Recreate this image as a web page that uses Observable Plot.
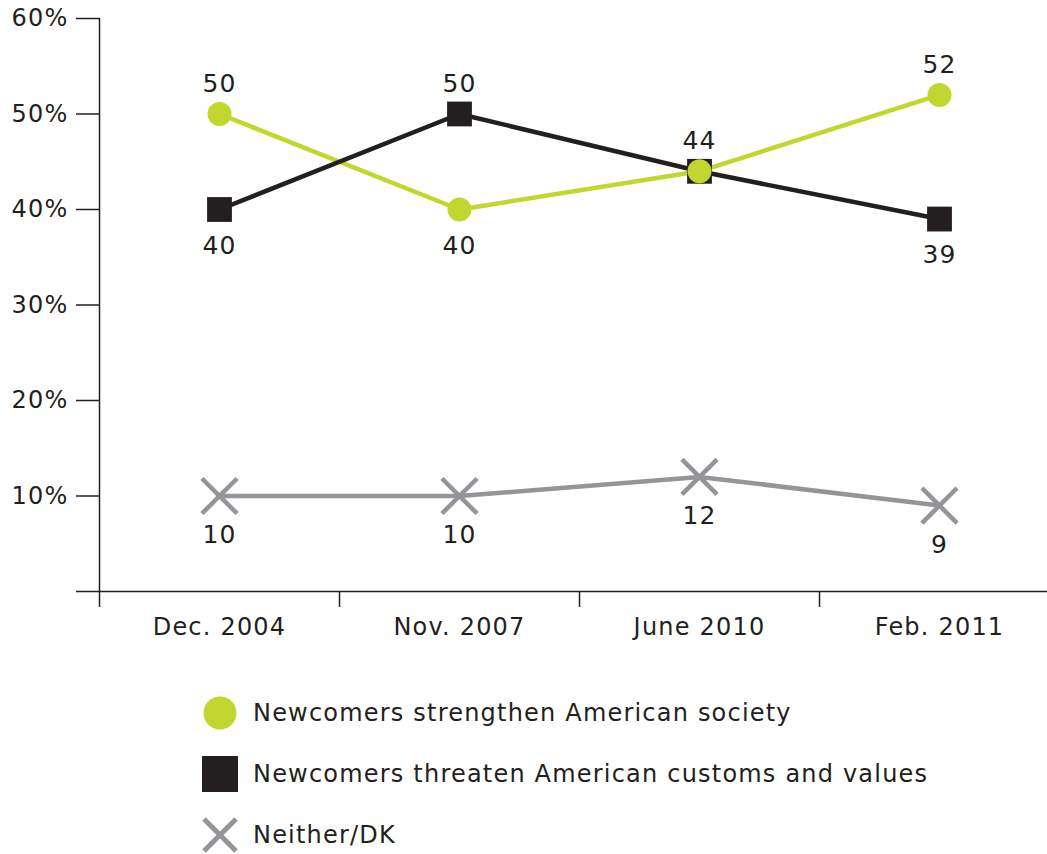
<!DOCTYPE html>
<html>
<head>
<meta charset="utf-8">
<script src="https://cdn.jsdelivr.net/npm/d3@7"></script>
<script src="https://cdn.jsdelivr.net/npm/@observablehq/plot@0.6"></script>
<style>
  body { margin: 0; background: #fff; font-family: "DejaVu Sans", sans-serif; color: #231f20; }
  #legend { padding-top: 32px; }
  .row { display: flex; align-items: center; height: 61px; }
  .sym { width: 40px; height: 40px; margin-left: 200px; margin-right: 13px; }
  .lab { font-size: 24px; letter-spacing: 1.2px; color: #231f20; }
</style>
</head>
<body>
<div id="chart"></div>
<div id="legend"></div>
<script>
const dates = ["Dec. 2004", "Nov. 2007", "June 2010", "Feb. 2011"];
const strengthen = [50, 40, 44, 52];
const threaten = [40, 50, 44, 39];
const neither = [10, 10, 12, 9];
const yTicks = [10, 20, 30, 40, 50, 60];
const seriesNames = [
  "Newcomers strengthen American society",
  "Newcomers threaten American customs and values",
  "Neither/DK"
];

const GREEN = "#c1d72f", BLACK = "#231f20", GRAY = "#939598";
const FONT = "DejaVu Sans";

const rows = (vals, key) => vals.map((v, i) => ({i, x: i + 0.5, date: dates[i], value: v, series: key}));
const sRows = rows(strengthen, "s");
const tRows = rows(threaten, "t");
const nRows = rows(neither, "n");

// label placement derived from comparing the two main series
const sAbove = sRows.filter(d => d.value >= threaten[d.i]);
const sBelow = sRows.filter(d => d.value < threaten[d.i]);
const tAbove = tRows.filter(d => d.value > strengthen[d.i]);
const tBelow = tRows.filter(d => d.value < strengthen[d.i]);

const chart = Plot.plot({
  width: 1047,
  height: 650,
  marginTop: 18,
  marginBottom: 59,
  marginLeft: 99,
  marginRight: 0,
  style: {fontFamily: FONT, color: BLACK, background: "#fff", letterSpacing: "1.2px", overflow: "visible"},
  x: {domain: [0, dates.length], range: [99, 1059], label: null},
  y: {domain: [0, 60], label: null},
  marks: [
    Plot.ruleY([0], {stroke: BLACK, strokeWidth: 1.5, insetLeft: -23, insetRight: -20}),
    Plot.frame({anchor: "left", stroke: BLACK, strokeWidth: 1.5}),
    Plot.axisY(yTicks, {label: null, tickSize: 23, tickPadding: 8, tickFormat: d => d + "%", fontSize: 24, stroke: BLACK, strokeWidth: 1.5, fill: BLACK}),
    Plot.axisX(d3.range(dates.length), {label: null, tickSize: 16, tickFormat: () => "", stroke: BLACK, strokeWidth: 1.5}),
    Plot.axisX(dates.map((d, i) => i + 0.5), {label: null, tickSize: 0, tickPadding: 26, tickFormat: d => dates[Math.floor(d)], fontSize: 24, fill: BLACK}),
    Plot.line(nRows, {x: "x", y: "value", stroke: GRAY, strokeWidth: 4.5}),
    Plot.line(sRows, {x: "x", y: "value", stroke: GREEN, strokeWidth: 4.5}),
    Plot.line(tRows, {x: "x", y: "value", stroke: BLACK, strokeWidth: 4.5}),
    Plot.dot(nRows, {x: "x", y: "value", symbol: "times", r: 16, stroke: GRAY, strokeWidth: 4.5}),
    Plot.dot(tRows, {x: "x", y: "value", symbol: "square", r: 14, fill: BLACK, stroke: null}),
    Plot.dot(sRows, {x: "x", y: "value", symbol: "circle", r: 12, fill: GREEN, stroke: null}),
    Plot.text(sAbove, {x: "x", y: "value", text: d => String(d.value), dy: -30, fontSize: 25, fill: BLACK}),
    Plot.text(sBelow, {x: "x", y: "value", text: d => String(d.value), dy: 36, fontSize: 25, fill: BLACK}),
    Plot.text(tAbove, {x: "x", y: "value", text: d => String(d.value), dy: -30, fontSize: 25, fill: BLACK}),
    Plot.text(tBelow, {x: "x", y: "value", text: d => String(d.value), dy: 36, fontSize: 25, fill: BLACK}),
    Plot.text(nRows, {x: "x", y: "value", text: d => String(d.value), dy: 39, fontSize: 25, fill: BLACK})
  ]
});
document.getElementById("chart").append(chart);

// legend
const legend = d3.select("#legend");
const symbols = [
  g => g.append("circle").attr("cx", 20).attr("cy", 20).attr("r", 16.5).attr("fill", GREEN),
  g => g.append("rect").attr("x", 2).attr("y", 2).attr("width", 36).attr("height", 36).attr("fill", BLACK),
  g => g.append("path").attr("d", "M4,4L36,36M36,4L4,36").attr("stroke", GRAY).attr("stroke-width", 5).attr("fill", "none")
];
seriesNames.forEach((name, k) => {
  const row = legend.append("div").attr("class", "row");
  const svg = row.append("svg").attr("class", "sym").attr("viewBox", "0 0 40 40");
  symbols[k](svg);
  row.append("span").attr("class", "lab").text(name);
});
</script>
</body>
</html>
